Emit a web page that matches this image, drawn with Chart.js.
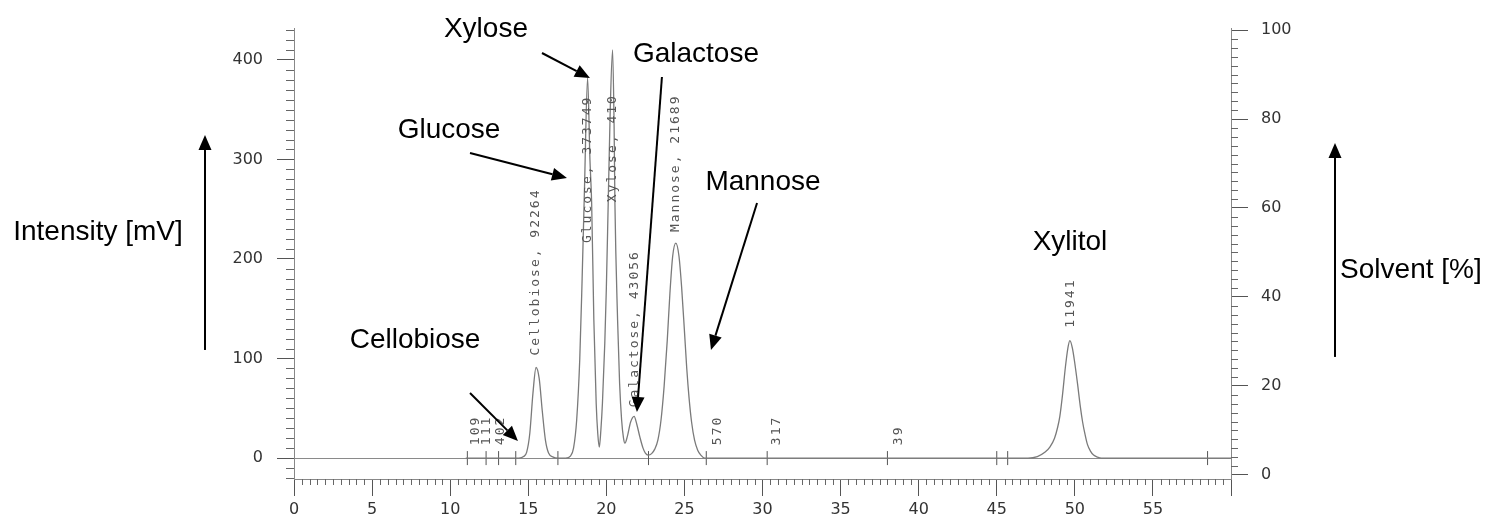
<!DOCTYPE html>
<html>
<head>
<meta charset="utf-8">
<script src="https://cdn.jsdelivr.net/npm/chart.js@4.4.1/dist/chart.umd.min.js"></script>
<style>
  html, body { margin: 0; padding: 0; background: #fff; }
  #wrap { width: 1507px; height: 525px; }
</style>
</head>
<body>
<div id="wrap"><canvas id="myChart"></canvas></div>
<script>
// chromatogram trace: retention time [min] / intensity [mV]
var retentionTime = [
  11.0, 14.4, 14.7, 14.9, 15.1, 15.3, 15.5, 15.7, 15.9, 16.1, 16.3, 16.6, 16.9,
  17.4, 17.7, 17.9, 18.1, 18.3, 18.45, 18.6, 18.8, 18.95, 19.06, 19.2, 19.35, 19.45, 19.55,
  19.65, 19.75, 19.9, 20.0, 20.12, 20.25, 20.4, 20.5, 20.55, 20.72, 20.85, 20.98, 21.1, 21.19,
  21.35, 21.55, 21.78, 21.95, 22.15, 22.35, 22.5, 22.68,
  22.9, 23.1, 23.3, 23.5, 23.7, 23.9, 24.07, 24.25, 24.45, 24.65, 24.82, 25.0, 25.15, 25.3, 25.46, 25.65, 25.85, 26.05, 26.3,
  47.0, 47.6, 48.1, 48.4, 48.7, 48.9, 49.04, 49.2, 49.4, 49.55, 49.68, 49.85, 50.0, 50.17, 50.35, 50.5, 50.65, 50.8, 51.0, 51.2, 51.45, 51.7,
  60.0
];
var intensity = [
  0, 0, 1.5, 6, 25, 65, 91, 80, 47, 18, 5, 1, 0,
  0, 2, 10, 38, 100, 180, 270, 382, 300, 256, 139, 55, 25, 11,
  28, 55, 115, 170, 256, 350, 410, 330, 256, 139, 75, 38, 20, 15,
  22, 36, 42, 34, 21, 10, 5, 3,
  4.5, 9, 18, 38, 72, 118, 165, 203, 216, 203, 172, 128, 90, 60, 36, 18, 8, 3, 0,
  0, 1.5, 6, 11, 20, 31, 42, 62, 92, 110, 118, 110, 95, 75, 52, 36, 24, 14, 7, 3, 1, 0,
  0
];

// integration marks on the baseline
var markTimes = [11.1, 12.3, 13.1, 14.2, 16.9, 22.7, 26.4, 30.3, 38.0, 45.0, 45.7, 58.5];

// small peaks, area only
var smallTimes = [11.6, 12.35, 13.2, 27.1, 30.9, 38.7];
var smallAreas = ['109', '111', '402', '570', '317', '39'];

// named peaks (name, area)
var peakTimes = [15.5, 18.8, 20.4, 21.8, 24.45, 49.7];
var peakNames = ['Cellobiose, 92264', 'Glucose, 373749', 'Xylose, 410111', 'Galactose, 43056', 'Mannose, 21689', '11941'];

// where each rotated peak label starts (mV)
var peakLabelFrom = [103, 216, 257, 51, 227, 131];

// big call-outs, placed in axis units
var callouts = [
  { text: 'Xylose',         at: [12.29, 433],   from: [15.88, 406.9], to: [18.95, 381.8] },
  { text: 'Galactose',      at: [25.74, 407.8], from: [23.56, 382.8], to: [21.96, 46.3] },
  { text: 'Glucose',        at: [9.93, 331.6],  from: [11.27, 306.4], to: [17.48, 281.3] },
  { text: 'Mannose',        at: [30.03, 279.3], from: [29.65, 256.2], to: [26.70, 108.6] },
  { text: 'Cellobiose',     at: [7.75, 120.6],  from: [11.27, 65.4],  to: [14.34, 17.2] },
  { text: 'Xylitol',        at: [49.69, 219] },
  { text: 'Intensity [mV]', at: [-12.55, 229.1], from: [-5.70, 108.6], to: [-5.70, 324.5] },
  { text: 'Solvent [%]',    at: [71.52, 191],   from: [66.66, 101.6], to: [66.66, 316.5] }
];

function arrow(ctx, x1, y1, x2, y2) {
  var a = Math.atan2(y2 - y1, x2 - x1);
  var hl = 15, hw = 6.5;
  var bx = x2 - hl * Math.cos(a), by = y2 - hl * Math.sin(a);
  ctx.beginPath();
  ctx.moveTo(x1, y1);
  ctx.lineTo(bx, by);
  ctx.stroke();
  ctx.beginPath();
  ctx.moveTo(x2, y2);
  ctx.lineTo(bx + hw * Math.sin(a), by - hw * Math.cos(a));
  ctx.lineTo(bx - hw * Math.sin(a), by + hw * Math.cos(a));
  ctx.closePath();
  ctx.fill();
}

var decor = {
  id: 'decor',
  afterDraw: function(chart) {
    var ctx = chart.ctx;
    var x = chart.scales.x, y = chart.scales.y, y2 = chart.scales.y2;
    var area = chart.chartArea;

    // minor ticks
    ctx.save();
    ctx.strokeStyle = '#666';
    ctx.lineWidth = 1;
    ctx.beginPath();
    for (var v = -20; v <= 430; v += 10) {
      if (v % 100 === 0) continue;
      var p = Math.round(y.getPixelForValue(v)) + 0.5;
      ctx.moveTo(area.left - 8, p); ctx.lineTo(area.left, p);
    }
    for (var w = 0; w <= 100; w += 2) {
      if (w % 20 === 0) continue;
      var q = Math.round(y2.getPixelForValue(w)) + 0.5;
      ctx.moveTo(area.right, q); ctx.lineTo(area.right + 7, q);
    }
    for (var t = 0.5; t < 60; t += 0.5) {
      if (t % 5 === 0) continue;
      var r = Math.round(x.getPixelForValue(t)) + 0.5;
      ctx.moveTo(r, area.bottom); ctx.lineTo(r, area.bottom + 6);
    }
    ctx.stroke();
    ctx.restore();

    // rotated peak labels
    ctx.save();
    ctx.beginPath();
    ctx.rect(area.left, y.getPixelForValue(364), area.right - area.left, area.bottom);
    ctx.clip();
    ctx.fillStyle = '#555';
    ctx.font = '13px "DejaVu Sans Mono"';
    ctx.letterSpacing = '2px';
    ctx.textAlign = 'left';
    ctx.textBaseline = 'middle';
    function vtext(str, t, from) {
      ctx.save();
      ctx.translate(x.getPixelForValue(t), y.getPixelForValue(from));
      ctx.rotate(-Math.PI / 2);
      ctx.fillText(str, 0, 0);
      ctx.restore();
    }
    peakNames.forEach(function(s, i) { vtext(s, peakTimes[i], peakLabelFrom[i]); });
    smallAreas.forEach(function(s, i) { vtext(s, smallTimes[i], 13); });
    ctx.restore();

    // call-outs
    ctx.save();
    ctx.fillStyle = '#000';
    ctx.strokeStyle = '#000';
    ctx.lineWidth = 2;
    ctx.font = '28px "Liberation Sans", Arial, sans-serif';
    ctx.textAlign = 'center';
    ctx.textBaseline = 'middle';
    callouts.forEach(function(c) {
      ctx.fillText(c.text, x.getPixelForValue(c.at[0]), y.getPixelForValue(c.at[1]) + 2);
      if (c.from) {
        arrow(ctx, x.getPixelForValue(c.from[0]), y.getPixelForValue(c.from[1]),
                   x.getPixelForValue(c.to[0]), y.getPixelForValue(c.to[1]));
      }
    });
    ctx.restore();
  }
};

var tickFont = { family: 'DejaVu Sans', size: 16 };

var traceData = retentionTime.map(function(t, i) { return { x: t, y: intensity[i] }; });
var markData = markTimes.map(function(t) { return { x: t, y: 0 }; });

var myChart = new Chart(document.getElementById('myChart'), {
  type: 'line',
  data: {
    datasets: [{
      label: 'trace',
      data: traceData,
      borderColor: '#7a7a7a',
      borderWidth: 1.3,
      pointRadius: 0,
      cubicInterpolationMode: 'monotone',
      fill: false,
      yAxisID: 'y'
    }, {
      type: 'scatter',
      label: 'marks',
      data: markData,
      pointStyle: 'line',
      pointRotation: 90,
      pointRadius: 7,
      pointBorderColor: '#555',
      pointBorderWidth: 1,
      yAxisID: 'y'
    }]
  },
  options: {
    responsive: true,
    maintainAspectRatio: false,
    animation: false,
    layout: { padding: { left: 194, right: 176, top: 28, bottom: 0 } },
    plugins: { legend: { display: false }, tooltip: { enabled: false } },
    scales: {
      x: {
        type: 'linear', min: 0, max: 60,
        ticks: {
          stepSize: 5, maxRotation: 0, padding: 4, color: '#333', font: tickFont,
          callback: function(v) { return v >= 60 ? '' : v; }
        },
        grid: { drawOnChartArea: false, tickLength: 17, tickColor: '#555' },
        border: { color: '#888' },
        afterFit: function(s) { s.height = 46; }
      },
      y: {
        position: 'left', min: -21, max: 432,
        ticks: { stepSize: 100, includeBounds: false, padding: 14, color: '#333', font: tickFont },
        grid: {
          tickLength: 17, tickColor: '#555',
          color: function(c) { return c.tick && c.tick.value === 0 ? '#8a8a8a' : 'rgba(0,0,0,0)'; }
        },
        border: { color: '#888' },
        afterFit: function(s) { s.width = 100; }
      },
      y2: {
        position: 'right', min: -0.9, max: 100.45,
        ticks: { stepSize: 20, includeBounds: false, padding: 13, color: '#333', font: tickFont },
        grid: { drawOnChartArea: false, tickLength: 17, tickColor: '#555' },
        border: { color: '#888' },
        afterFit: function(s) { s.width = 100; }
      }
    }
  },
  plugins: [decor]
});
</script>
</body>
</html>
